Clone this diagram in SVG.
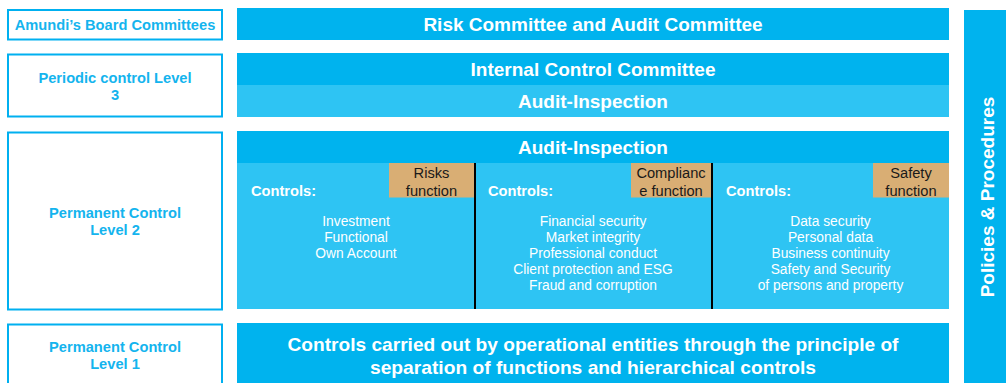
<svg xmlns="http://www.w3.org/2000/svg" width="1006" height="383" viewBox="0 0 1006 383">
<style>
.lbl{fill:#fff;stroke:#00B0F0;stroke-width:2}
.lt{font-family:"Liberation Sans",Arial,sans-serif;font-weight:bold;font-size:14.67px;fill:#14B4EE;text-anchor:middle}
.dk{fill:#00B3EE}
.lg{fill:#2EC4F3}
.or{fill:#D9AE74}
.ht{font-family:"Liberation Sans",Arial,sans-serif;font-weight:bold;font-size:19px;fill:#fff;text-anchor:middle}
.ct{font-family:"Liberation Sans",Arial,sans-serif;font-weight:bold;font-size:14.67px;fill:#fff}
.li{font-family:"Liberation Sans",Arial,sans-serif;font-size:13.8px;fill:#fff;text-anchor:middle}
.ot{font-family:"Liberation Sans",Arial,sans-serif;font-size:14.67px;fill:#1a1a1a;text-anchor:middle}
.dv{stroke:#000;stroke-width:2}
</style>
<g id="board-label">
<rect class="lbl" x="8" y="10" width="214" height="29.5"/>
<text class="lt" x="115" y="30">Amundi’s Board Committees</text>
</g>
<g id="level3-label">
<rect class="lbl" x="8" y="54.5" width="214" height="62"/>
<text class="lt" x="115" y="83">Periodic control Level</text>
<text class="lt" x="115" y="100">3</text>
</g>
<g id="level2-label">
<rect class="lbl" x="8" y="132.5" width="214" height="177"/>
<text class="lt" x="115" y="218">Permanent Control</text>
<text class="lt" x="115" y="234.5">Level 2</text>
</g>
<g id="level1-label">
<rect class="lbl" x="8" y="324.5" width="214" height="70"/>
<text class="lt" x="115" y="352">Permanent Control</text>
<text class="lt" x="115" y="368.5">Level 1</text>
</g>
<g id="risk-audit">
<rect class="dk" x="237" y="8" width="712" height="32"/>
<text class="ht" x="593" y="31">Risk Committee and Audit Committee</text>
</g>
<g id="internal-control">
<rect class="dk" x="237" y="53" width="712" height="32"/>
<text class="ht" x="593" y="76">Internal Control Committee</text>
</g>
<g id="audit-inspection-3">
<rect class="lg" x="237" y="85" width="712" height="32"/>
<text class="ht" x="593" y="108">Audit-Inspection</text>
</g>
<g id="audit-inspection-2">
<rect class="dk" x="237" y="131" width="712" height="32"/>
<text class="ht" x="593" y="154">Audit-Inspection</text>
</g>
<g id="controls-panel">
<rect class="lg" x="237" y="163" width="712" height="146"/>
<line class="dv" x1="475" y1="163" x2="475" y2="309"/>
<line class="dv" x1="712" y1="163" x2="712" y2="309"/>
</g>
<g id="risks-col">
<rect class="or" x="389" y="163" width="85" height="34.5"/>
<text class="ot" x="431.5" y="178">Risks</text>
<text class="ot" x="431.5" y="195.5">function</text>
<text class="ct" x="251" y="196">Controls:</text>
<text class="li" x="356" y="226">Investment</text>
<text class="li" x="356" y="242">Functional</text>
<text class="li" x="356" y="258">Own Account</text>
</g>
<g id="compliance-col">
<rect class="or" x="631" y="163" width="80" height="34.5"/>
<text class="ot" x="671" y="178">Complianc</text>
<text class="ot" x="671" y="195.5">e function</text>
<text class="ct" x="488" y="196">Controls:</text>
<text class="li" x="593" y="226">Financial security</text>
<text class="li" x="593" y="242">Market integrity</text>
<text class="li" x="593" y="258">Professional conduct</text>
<text class="li" x="593" y="274">Client protection and ESG</text>
<text class="li" x="593" y="290">Fraud and corruption</text>
</g>
<g id="safety-col">
<rect class="or" x="873" y="163" width="76" height="34.5"/>
<text class="ot" x="911" y="178">Safety</text>
<text class="ot" x="911" y="195.5">function</text>
<text class="ct" x="726" y="196">Controls:</text>
<text class="li" x="830.5" y="226">Data security</text>
<text class="li" x="830.5" y="242">Personal data</text>
<text class="li" x="830.5" y="258">Business continuity</text>
<text class="li" x="830.5" y="274">Safety and Security</text>
<text class="li" x="830.5" y="290">of persons and property</text>
</g>
<g id="operational">
<rect class="dk" x="237" y="323" width="712" height="60"/>
<text class="ht" x="593" y="351" textLength="611" lengthAdjust="spacingAndGlyphs">Controls carried out by operational entities through the principle of</text>
<text class="ht" x="593" y="374" textLength="446" lengthAdjust="spacingAndGlyphs">separation of functions and hierarchical controls</text>
</g>
<g id="policies">
<rect class="dk" x="964" y="10" width="42" height="373"/>
<text class="ht" x="0" y="0" transform="translate(993.5 197) rotate(-90)">Policies &amp; Procedures</text>
</g>
<g id="connectors"/>
</svg>
